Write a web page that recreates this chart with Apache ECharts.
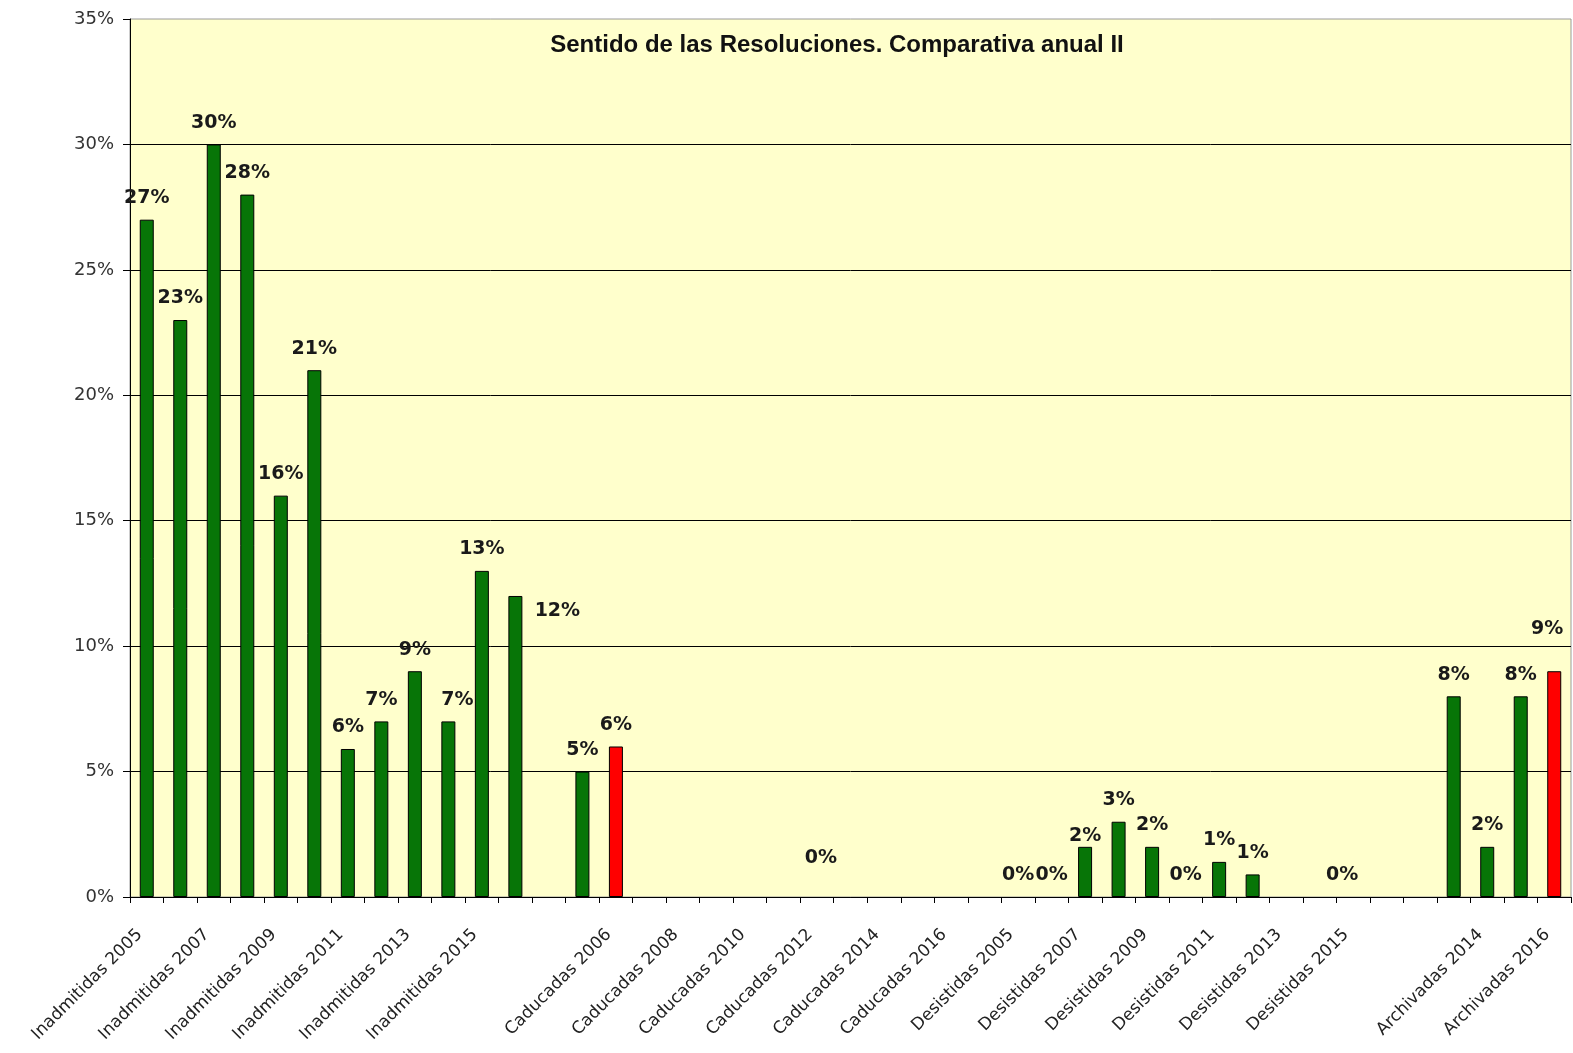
<!DOCTYPE html>
<html>
<head>
<meta charset="utf-8">
<script src="https://cdn.jsdelivr.net/npm/echarts@6/dist/echarts.min.js"></script>
<style>
html,body{margin:0;padding:0;background:#ffffff;}
#chart{width:1573px;height:1053px;}
</style>
</head>
<body>
<div id="chart"></div>
<script>
// ---------------- data ----------------
const chartTitle = 'Sentido de las Resoluciones. Comparativa anual II';

const inadmitidasYears  = [2005,2006,2007,2008,2009,2010,2011,2012,2013,2014,2015,2016];
const inadmitidasValues = [27,23,30,28,16,21,5.9,7,9,7,13,12];

const caducadasYears  = [2005,2006,2007,2008,2009,2010,2011,2012,2013,2014,2015,2016];
const caducadasValues = [5,6,null,null,null,null,null,0,null,null,null,null];

const desistidasYears  = [2005,2006,2007,2008,2009,2010,2011,2012,2013,2014,2015,2016];
const desistidasValues = [0,0,2,3,2,0,1.4,0.9,null,null,0,null];

const archivadasYears  = [2013,2014,2015,2016];
const archivadasValues = [8,2,8,9];

const yAxisTicks = [0,5,10,15,20,25,30,35];

const highlightedCategories = ['Caducadas 2006','Archivadas 2016'];

// ---------------- styles ----------------
const GREEN = '#077507';
const RED = '#ff0000';
// hand-placed label nudges (dx, dy in px) as in the original
const labelNudges = {
  'Inadmitidas 2014': [9, 0],
  'Inadmitidas 2016': [42, 37],
  'Caducadas 2012': [4, -17],
  'Desistidas 2007': [0, 11],
  'Desistidas 2015': [-11, 0],
  'Archivadas 2016': [-7, -21]
};

// ---------------- build ----------------
const groups = [
  {name:'Inadmitidas', years:inadmitidasYears, values:inadmitidasValues},
  {name:'Caducadas',   years:caducadasYears,   values:caducadasValues},
  {name:'Desistidas',  years:desistidasYears,  values:desistidasValues},
  {name:'Archivadas',  years:archivadasYears,  values:archivadasValues}
];
const categories = [];
const seriesData = [];
groups.forEach((g, gi) => {
  if (gi > 0) { categories.push(''); seriesData.push(null); }
  g.years.forEach((y, i) => {
    const cat = g.name + ' ' + y;
    categories.push(cat);
    const v = g.values[i];
    if (v === null) { seriesData.push(null); return; }
    const item = {
      value: v,
      itemStyle: {
        color: highlightedCategories.includes(cat) ? RED : GREEN,
        borderWidth: v === 0 ? 0 : 1
      }
    };
    if (labelNudges[cat]) item.label = {offset: labelNudges[cat]};
    seriesData.push(item);
  });
});

const chart = echarts.init(document.getElementById('chart'), null, {renderer:'canvas'});
chart.setOption({
  backgroundColor: '#ffffff',
  animation: false,
  title: {
    text: chartTitle,
    left: 832,
    top: 28,
    textAlign: 'center',
    textStyle: {fontFamily:'Liberation Sans', fontWeight:'bold', fontSize:24, color:'#111111'}
  },
  grid: {
    left: 130, right: 2, top: 19, bottom: 156,
    show: true, backgroundColor: '#ffffcc', borderColor: '#9a9a9a', borderWidth: 1
  },
  xAxis: {
    type: 'category',
    data: categories,
    boundaryGap: true,
    axisLine: {show:true, lineStyle:{color:'#000', width:1}},
    axisTick: {show:true, interval:0, length:6, lineStyle:{color:'#000'}},
    axisLabel: {
      interval: 1, rotate: 45, margin: 28, padding: [0, 10, 0, 0],
      fontFamily: 'DejaVu Sans', fontSize: 17, color: '#222222'
    },
    splitLine: {show:false}
  },
  yAxis: {
    type: 'value',
    min: yAxisTicks[0], max: yAxisTicks[yAxisTicks.length-1], interval: 5,
    axisLine: {show:true, lineStyle:{color:'#000', width:1}},
    axisTick: {show:true, length:7, lineStyle:{color:'#000'}},
    axisLabel: {formatter:'{value}%', margin:16, fontFamily:'DejaVu Sans', fontSize:18, color:'#333333'},
    splitLine: {show:true, showMaxLine:false, lineStyle:{color:'#000', width:1}}
  },
  series: [{
    type: 'bar',
    data: seriesData,
    barWidth: 14,
    itemStyle: {borderColor:'#000', borderWidth:1},
    label: {
      show: true, position: 'top', distance: 12,
      formatter: p => Math.round(p.value) + '%',
      fontFamily: 'DejaVu Sans', fontWeight: 'bold', fontSize: 19, color: '#1a1a1a'
    }
  }]
});
</script>
</body>
</html>
